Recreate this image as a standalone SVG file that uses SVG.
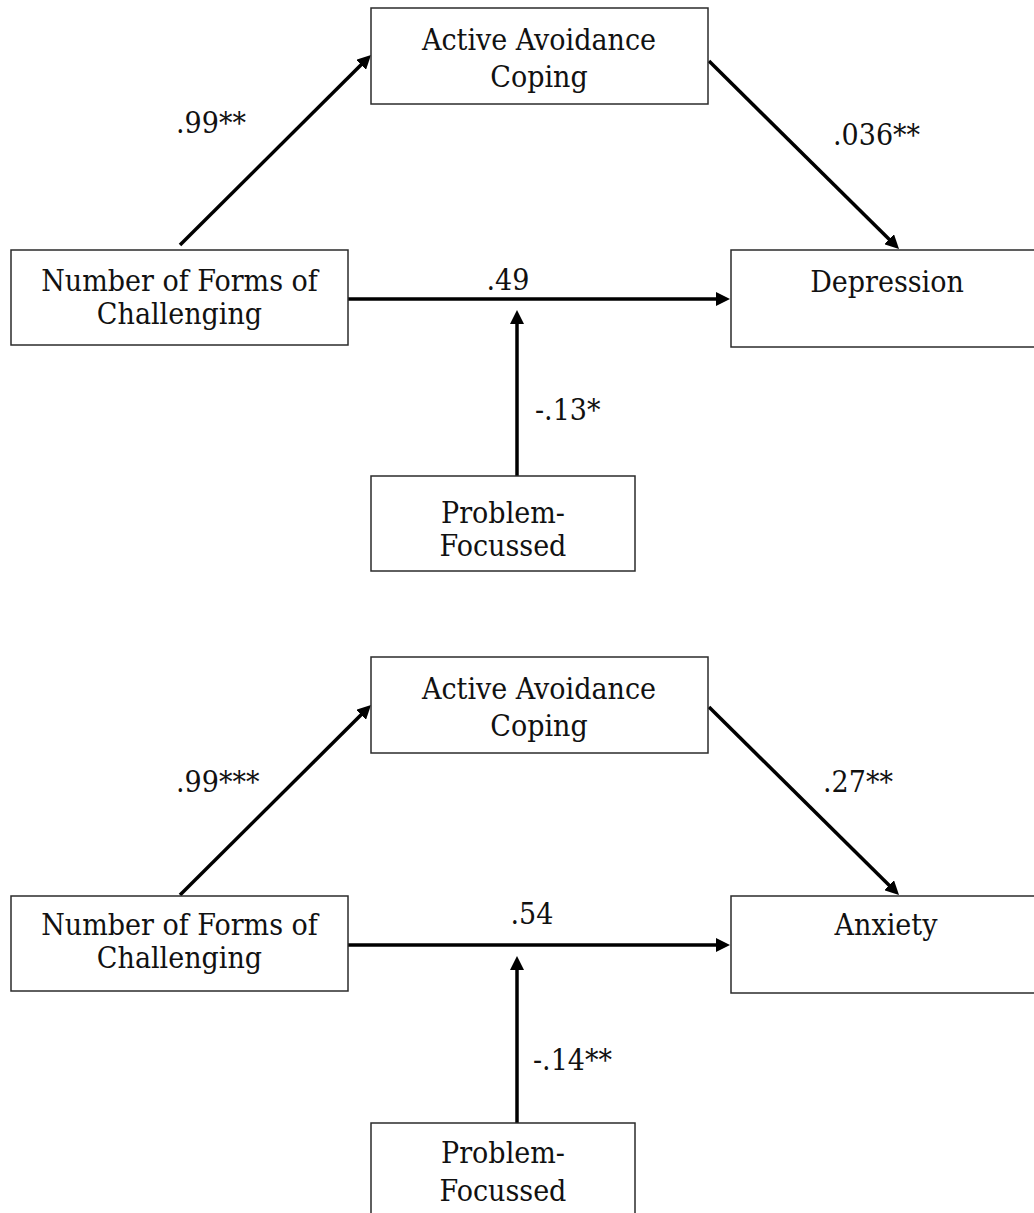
<svg xmlns="http://www.w3.org/2000/svg" width="1034" height="1213" viewBox="0 0 1034 1213">
<style>
.box{fill:#fff;stroke:#2b2b2b;stroke-width:1.5}
.t{font-family:"DejaVu Serif Condensed","DejaVu Serif","Liberation Serif",serif;font-stretch:condensed;font-size:30px;fill:#111;text-anchor:middle}
.l{font-family:"DejaVu Serif Condensed","DejaVu Serif","Liberation Serif",serif;font-stretch:condensed;font-size:30px;fill:#111}
.c{stroke:#000;stroke-width:3.5;fill:none}
</style>
<defs>
<marker id="ah" markerUnits="userSpaceOnUse" markerWidth="14" markerHeight="14" refX="4" refY="7" orient="auto" viewBox="0 0 14 14">
<path d="M0,0 L14,7 L0,14 z" fill="#000"/>
</marker>
</defs>
<rect width="1034" height="1213" fill="#fff"/>
<g id="connectors">
<line class="c" x1="180" y1="245" x2="363.9" y2="62.05" marker-end="url(#ah)"/>
<line class="c" x1="709" y1="61" x2="891.9" y2="241.97" marker-end="url(#ah)"/>
<line class="c" x1="348" y1="299" x2="720" y2="299" marker-end="url(#ah)"/>
<line class="c" x1="517" y1="476" x2="517" y2="320" marker-end="url(#ah)"/>
<line class="c" x1="180" y1="895" x2="363.9" y2="712.05" marker-end="url(#ah)"/>
<line class="c" x1="709" y1="707" x2="891.9" y2="887.97" marker-end="url(#ah)"/>
<line class="c" x1="348" y1="945" x2="720" y2="945" marker-end="url(#ah)"/>
<line class="c" x1="517" y1="1123" x2="517" y2="966" marker-end="url(#ah)"/>
<text class="l" x="176" y="133">.99**</text>
<text class="l" x="833" y="145">.036**</text>
<text class="t" x="508" y="290">.49</text>
<text class="l" x="535" y="420">-.13*</text>
<text class="l" x="176" y="792">.99***</text>
<text class="l" x="823" y="792">.27**</text>
<text class="t" x="532" y="924">.54</text>
<text class="l" x="533" y="1070">-.14**</text>
</g>
<g id="aa1">
<rect class="box" x="371" y="8" width="337" height="96"/>
<text class="t" x="539" y="50">Active Avoidance</text>
<text class="t" x="539" y="87">Coping</text>
</g>
<g id="nf1">
<rect class="box" x="11" y="250" width="337" height="95"/>
<text class="t" x="179.5" y="291">Number of Forms of</text>
<text class="t" x="179.5" y="324">Challenging</text>
</g>
<g id="dep">
<rect class="box" x="731" y="250" width="312" height="97"/>
<text class="t" x="887" y="292">Depression</text>
</g>
<g id="pf1">
<rect class="box" x="371" y="476" width="264" height="95"/>
<text class="t" x="503" y="523">Problem-</text>
<text class="t" x="503" y="556">Focussed</text>
</g>
<g id="aa2">
<rect class="box" x="371" y="657" width="337" height="96"/>
<text class="t" x="539" y="699">Active Avoidance</text>
<text class="t" x="539" y="736">Coping</text>
</g>
<g id="nf2">
<rect class="box" x="11" y="896" width="337" height="95"/>
<text class="t" x="179.5" y="935">Number of Forms of</text>
<text class="t" x="179.5" y="968">Challenging</text>
</g>
<g id="anx">
<rect class="box" x="731" y="896" width="312" height="97"/>
<text class="t" x="886" y="935">Anxiety</text>
</g>
<g id="pf2">
<rect class="box" x="371" y="1123" width="264" height="95"/>
<text class="t" x="503" y="1163">Problem-</text>
<text class="t" x="503" y="1201">Focussed</text>
</g>
</svg>
